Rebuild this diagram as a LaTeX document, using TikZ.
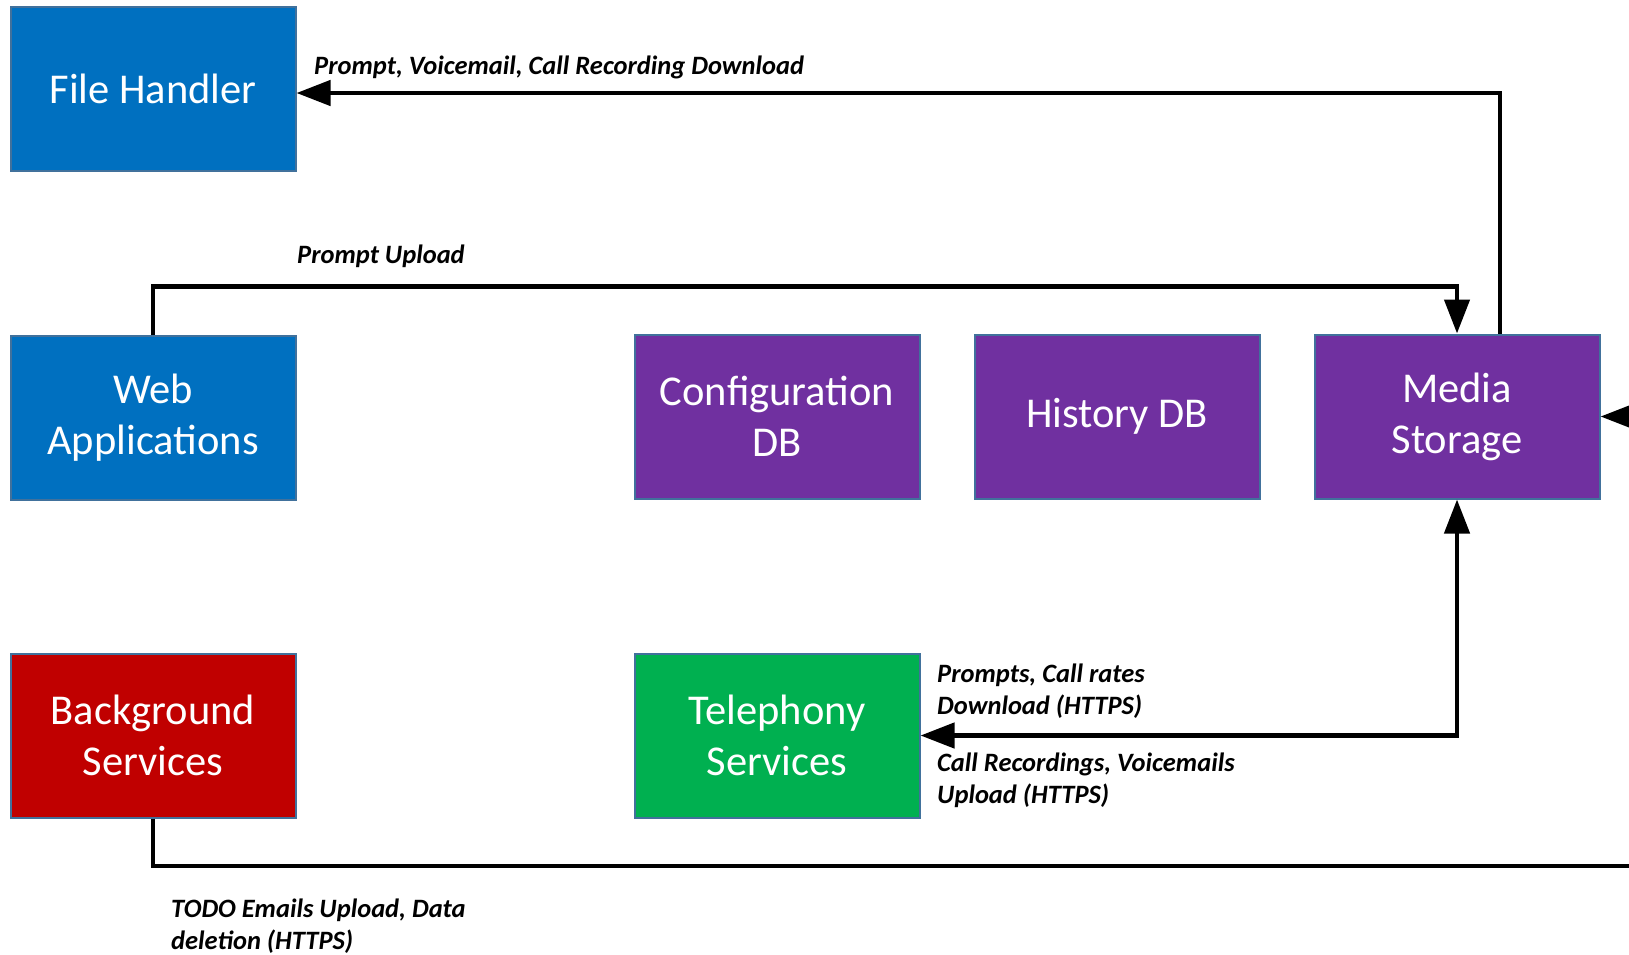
\documentclass[tikz,border=0pt]{standalone}
\usepackage{fontspec}
\setmainfont{Carlito}
\usetikzlibrary{arrows.meta}

\definecolor{appblue}{HTML}{0070C0}
\definecolor{storepurple}{HTML}{7030A0}
\definecolor{bgred}{HTML}{C00000}
\definecolor{telgreen}{HTML}{00B050}
\definecolor{boxline}{HTML}{41719C}

\begin{document}
\begin{tikzpicture}[x=1pt, y=-1pt,
    box/.style={draw=boxline, line width=2pt, text=white, minimum width=285pt, minimum height=164pt,
        align=center, inner sep=0pt, font=\fontsize{42.5}{51}\selectfont},
    flow/.style={line width=4.5pt, -{Triangle[length=34pt, width=25pt]}},
    lbl/.style={font=\fontsize{26.5}{32}\selectfont\bfseries\itshape, align=left, inner sep=0pt, anchor=west}]
    \useasboundingbox (0,0) rectangle (1629,954);

    % Draw nodes
    \node[box, fill=appblue] (fh) at (153,89) {File Handler};
    \node[box, fill=appblue] (wa) at (153,418) {Web\\Applications};
    \node[box, fill=bgred] (bg) at (153,735.5) {Background\\Services};
    \node[box, fill=storepurple] (cfg) at (777,416.5) {Configuration\\DB};
    \node[box, fill=storepurple] (hist) at (1117,416.5) {History DB};
    \node[box, fill=storepurple] (ms) at (1457,416.5) {Media\\Storage};
    \node[box, fill=telgreen] (tel) at (777,735.5) {Telephony\\Services};

    % Free ends at the right edge
    \coordinate (rin) at (1629,416.5);
    \coordinate (rout) at (1629,866);

    % Draw connections
    \draw[flow] ([xshift=43pt]ms.north) |- ([yshift=-4pt]fh.east);
    \draw[flow] (wa.north) |- ([yshift=47pt]ms.north) -- (ms.north);
    \draw[flow, {Triangle[length=34pt, width=25pt]}-{Triangle[length=34pt, width=25pt]}] (tel.east) -| (ms.south);
    \draw[line width=4.5pt] (bg.south) |- (rout);
    \draw[flow] (rin) -- (ms.east);

    % Labels
    \node[lbl] (lfh) at (314,67) {Prompt, Voicemail, Call Recording Download};
    \node[lbl] (lwa) at (297,256) {Prompt Upload};
    \node[lbl] (ldown) at (937,691) {Prompts, Call rates\\Download (HTTPS)};
    \node[lbl] (lup) at (937,780) {Call Recordings, Voicemails\\Upload (HTTPS)};
    \node[lbl] (lbg) at (171,926) {TODO Emails Upload, Data\\deletion (HTTPS)};
\end{tikzpicture}
\end{document}
